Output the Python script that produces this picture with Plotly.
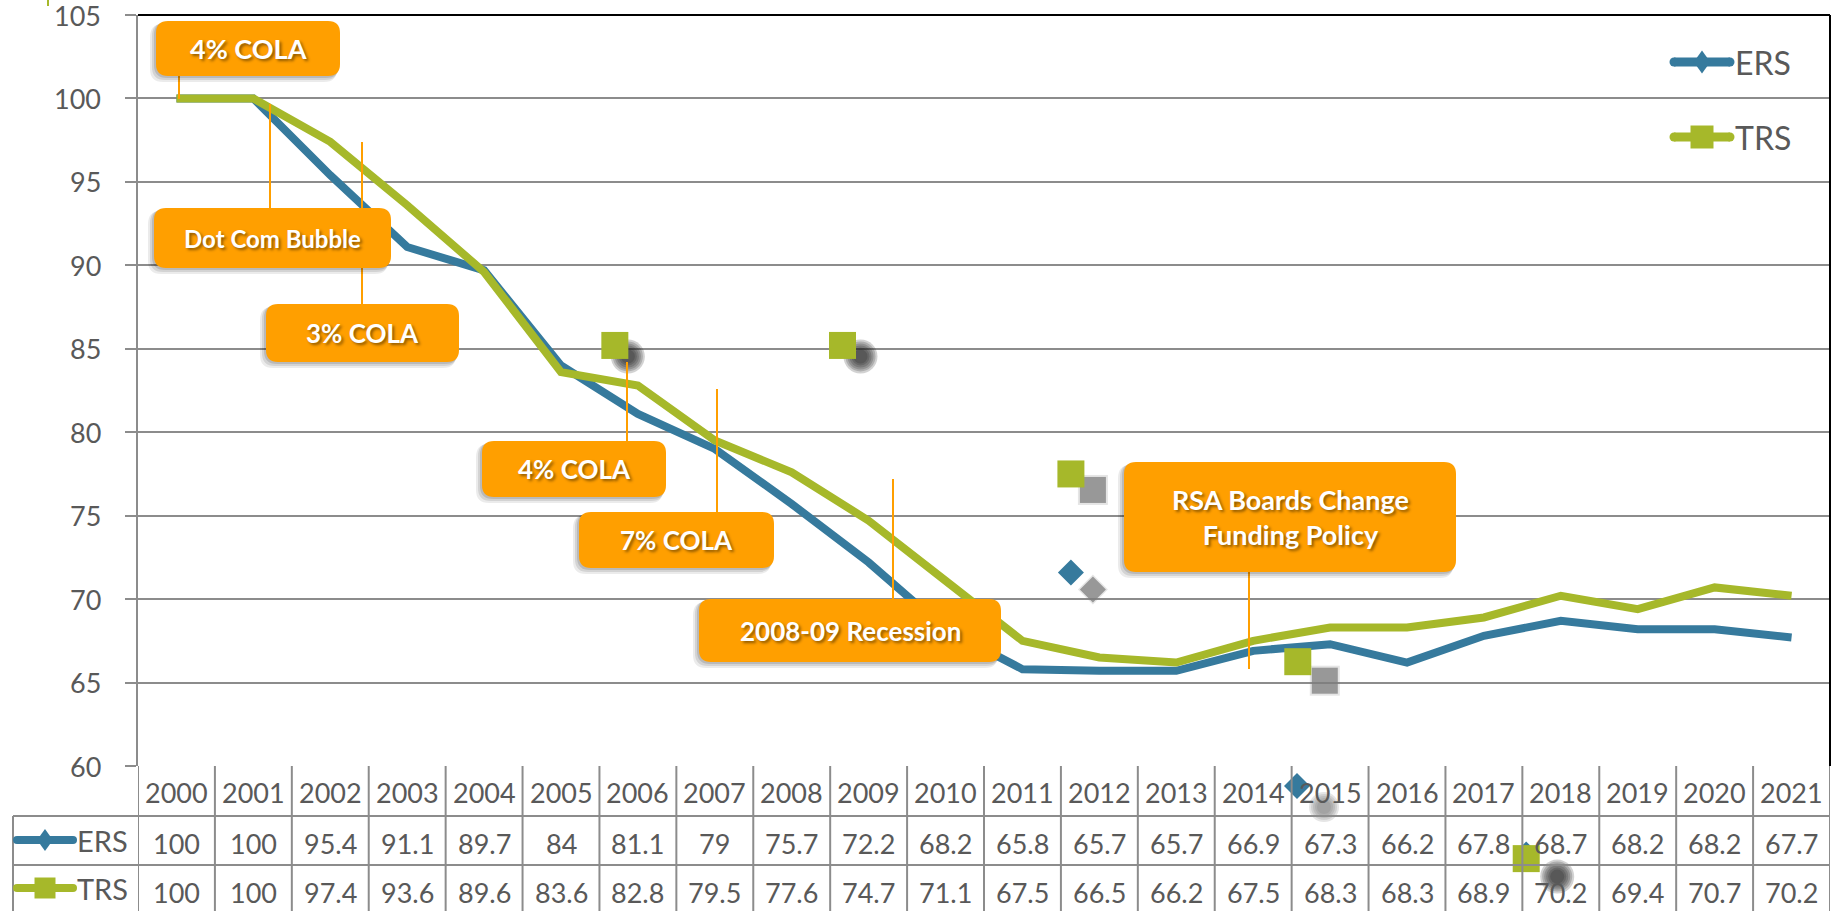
import plotly.graph_objects as go

# ---------------- data ----------------
years = ["2000", "2001", "2002", "2003", "2004", "2005", "2006", "2007", "2008", "2009", "2010",
         "2011", "2012", "2013", "2014", "2015", "2016", "2017", "2018", "2019", "2020", "2021"]
ers = [100, 100, 95.4, 91.1, 89.7, 84, 81.1, 79, 75.7, 72.2, 68.2,
       65.8, 65.7, 65.7, 66.9, 67.3, 66.2, 67.8, 68.7, 68.2, 68.2, 67.7]
trs = [100, 100, 97.4, 93.6, 89.6, 83.6, 82.8, 79.5, 77.6, 74.7, 71.1,
       67.5, 66.5, 66.2, 67.5, 68.3, 68.3, 68.9, 70.2, 69.4, 70.7, 70.2]
ers_text = ["100", "100", "95.4", "91.1", "89.7", "84", "81.1", "79", "75.7", "72.2", "68.2",
            "65.8", "65.7", "65.7", "66.9", "67.3", "66.2", "67.8", "68.7", "68.2", "68.2", "67.7"]
trs_text = ["100", "100", "97.4", "93.6", "89.6", "83.6", "82.8", "79.5", "77.6", "74.7", "71.1",
            "67.5", "66.5", "66.2", "67.5", "68.3", "68.3", "68.9", "70.2", "69.4", "70.7", "70.2"]
y_ticks = [60, 65, 70, 75, 80, 85, 90, 95, 100, 105]
y_tick_labels = ["60", "65", "70", "75", "80", "85", "90", "95", "100", "105"]

# stray (displaced) markers visible in the picture, in category-index / value units
stray_trs_pos = [5.70, 8.66, 11.63, 14.58, 17.55]
stray_trs_val = [85.2, 85.2, 77.5, 66.25, 54.45]
stray_ers_pos = [11.63, 17.55, 14.57]
stray_ers_val = [71.6, 54.7, 58.8]

callout_texts = ["4% COLA", "Dot Com Bubble", "3% COLA", "4% COLA", "7% COLA",
                 "2008-09 Recession", "RSA Boards Change<br>Funding Policy"]

# ---------------- geometry / style ----------------
W, H = 1832, 911
PL, PR, PT, PB = 138, 1830, 15, 766
PW, PH = PR - PL, PB - PT
YMIN, YMAX = 60, 105
NCAT = len(years)
XPX = PW / NCAT                # px per category
YPX = PH / (YMAX - YMIN)       # px per value unit

ERS_C = "#367A9D"
TRS_C = "#A6B82A"
GRID_C = "#8C8C8C"
TXT_C = "#595959"
ORANGE = "#FF9F00"
FONT = "Lato"


def fx(px):
    return (px - PL) / PW


def fy(py):
    return (PB - py) / PH


def vy(v):
    # value -> paper fraction (same linear scale as the y axis)
    return (v - YMIN) / (YMAX - YMIN)


idx = list(range(NCAT))

fig = go.Figure()

# main lines
fig.add_trace(go.Scatter(x=idx, y=ers, mode="lines", name="ERS",
                         line=dict(color=ERS_C, width=8), showlegend=False, hoverinfo="skip"))
fig.add_trace(go.Scatter(x=idx, y=trs, mode="lines", name="TRS",
                         line=dict(color=TRS_C, width=8), showlegend=False, hoverinfo="skip"))

shapes = []
annotations = []

# y tick labels (right aligned, a little away from the tick marks)
for v, lab in zip(y_ticks, y_tick_labels):
    annotations.append(dict(x=fx(103), y=v, xref="paper", yref="y", text=lab, showarrow=False,
                            xanchor="right", yanchor="middle",
                            font=dict(family=FONT, size=27, color=TXT_C)))


def mark_shape(pos, val, kind, half_px, color, dxpx=0, dypx=0):
    cx = pos + dxpx / XPX
    cy = vy(val) - dypx / PH
    hx = half_px / XPX
    hy = half_px / PH
    if kind == "circle":
        shapes.append(dict(type="circle", xref="x", yref="paper", x0=cx - hx, x1=cx + hx,
                           y0=cy - hy, y1=cy + hy, fillcolor=color, line=dict(width=0), layer="above"))
    elif kind == "square":
        shapes.append(dict(type="rect", xref="x", yref="paper", x0=cx - hx, x1=cx + hx,
                           y0=cy - hy, y1=cy + hy, fillcolor=color, line=dict(width=0), layer="above"))
    else:  # diamond
        path = (f"M{cx - hx},{cy} L{cx},{cy + hy} L{cx + hx},{cy} L{cx},{cy - hy} Z")
        shapes.append(dict(type="path", xref="x", yref="paper", path=path,
                           fillcolor=color, line=dict(width=0), layer="above"))


def shadow(pos, val, kind, dx, dy, symbol):
    if kind == "blur":
        for hp in [17, 15, 13, 11, 9, 7]:
            mark_shape(pos, val, "circle", hp, "rgba(30,30,30,0.2)", dx, dy)
    elif kind == "blurgray":
        for hp in [15, 13, 11, 9, 7]:
            mark_shape(pos, val, "circle", hp, "rgba(110,110,110,0.18)", dx, dy)
    elif kind == "gray":
        for hp, a in [(15, 0.2), (13, 0.75)]:
            mark_shape(pos, val, symbol, hp, f"rgba(125,125,125,{a})", dx, dy)


trs_shadow = [("blur", 13, 11), ("blur", 18, 11), ("gray", 22, 16), ("gray", 27, 19), ("blur", 31, 18)]
ers_shadow = [("gray", 22, 17), (None, 0, 0), ("blurgray", 27, 21)]

for (k, dx, dy), p, v in zip(trs_shadow, stray_trs_pos, stray_trs_val):
    shadow(p, v, k, dx, dy, "square")
for (k, dx, dy), p, v in zip(ers_shadow, stray_ers_pos, stray_ers_val):
    shadow(p, v, k, dx, dy, "diamond")
for p, v in zip(stray_ers_pos, stray_ers_val):
    mark_shape(p, v, "diamond", 13, ERS_C)
for p, v in zip(stray_trs_pos, stray_trs_val):
    mark_shape(p, v, "square", 13.5, TRS_C)

# plot border (top / right)
shapes.append(dict(type="line", xref="paper", yref="paper", x0=0, x1=1, y0=1, y1=1,
                   line=dict(color="#000000", width=2)))
shapes.append(dict(type="line", xref="paper", yref="paper", x0=1, x1=1, y0=0, y1=1,
                   line=dict(color="#000000", width=2)))
# tiny green artifact at top-left
shapes.append(dict(type="line", xref="paper", yref="paper", x0=fx(48), x1=fx(48), y0=fy(0), y1=fy(6),
                   line=dict(color=TRS_C, width=2)))

# ---------------- data table ----------------
for yy in [816, 865]:
    shapes.append(dict(type="line", xref="paper", yref="paper", x0=fx(13), x1=fx(PR), y0=fy(yy), y1=fy(yy),
                       line=dict(color=GRID_C, width=2)))
for k in range(NCAT + 1):
    shapes.append(dict(type="line", xref="x", yref="paper", x0=k - 0.5, x1=k - 0.5, y0=fy(PB), y1=fy(H + 5),
                       line=dict(color=GRID_C, width=2)))
shapes.append(dict(type="line", xref="paper", yref="paper", x0=fx(13), x1=fx(13), y0=fy(816), y1=fy(H + 5),
                   line=dict(color=GRID_C, width=2)))

for i, yr in enumerate(years):
    annotations.append(dict(x=i, y=fy(792), xref="x", yref="paper", text=yr, showarrow=False,
                            xanchor="center", yanchor="middle",
                            font=dict(family=FONT, size=27, color=TXT_C)))
    annotations.append(dict(x=i, y=fy(843), xref="x", yref="paper", text=ers_text[i], showarrow=False,
                            xanchor="center", yanchor="middle",
                            font=dict(family=FONT, size=27, color=TXT_C)))
    annotations.append(dict(x=i, y=fy(892), xref="x", yref="paper", text=trs_text[i], showarrow=False,
                            xanchor="center", yanchor="middle",
                            font=dict(family=FONT, size=27, color=TXT_C)))


def diamond_path(cx, cy, hw, hh):
    return (f"M{fx(cx - hw)},{fy(cy)} L{fx(cx)},{fy(cy - hh)} L{fx(cx + hw)},{fy(cy)} "
            f"L{fx(cx)},{fy(cy + hh)} Z")


def square_path(cx, cy, h):
    return (f"M{fx(cx - h)},{fy(cy - h)} L{fx(cx + h)},{fy(cy - h)} L{fx(cx + h)},{fy(cy + h)} "
            f"L{fx(cx - h)},{fy(cy + h)} Z")


def legend_key(x0, x1, cy, color, kind, lw, size):
    shapes.append(dict(type="line", xref="paper", yref="paper", x0=fx(x0), x1=fx(x1), y0=fy(cy), y1=fy(cy),
                       line=dict(color=color, width=lw)))
    for ex in (x0, x1):
        r = lw / 2
        shapes.append(dict(type="circle", xref="paper", yref="paper", x0=fx(ex - r), x1=fx(ex + r),
                           y0=fy(cy + r), y1=fy(cy - r), fillcolor=color, line=dict(width=0)))
    cx = (x0 + x1) / 2
    if kind == "diamond":
        path = diamond_path(cx, cy, size * 0.72, size)
    else:
        path = square_path(cx, cy, size)
    shapes.append(dict(type="path", xref="paper", yref="paper", path=path, fillcolor=color,
                       line=dict(width=0)))


# table row keys
legend_key(17, 73, 840, ERS_C, "diamond", 8, 11)
legend_key(17, 73, 888, TRS_C, "square", 8, 10.5)
annotations.append(dict(x=fx(75), y=fy(840), xref="paper", yref="paper", text="ERS", showarrow=False,
                        xanchor="left", yanchor="middle", font=dict(family=FONT, size=29, color=TXT_C)))
annotations.append(dict(x=fx(75), y=fy(888), xref="paper", yref="paper", text="TRS", showarrow=False,
                        xanchor="left", yanchor="middle", font=dict(family=FONT, size=29, color=TXT_C)))

# top-right legend
legend_key(1674, 1730, 62, ERS_C, "diamond", 9, 11.5)
legend_key(1674, 1730, 137, TRS_C, "square", 9, 11.5)
annotations.append(dict(x=fx(1733), y=fy(62), xref="paper", yref="paper", text="ERS", showarrow=False,
                        xanchor="left", yanchor="middle", font=dict(family=FONT, size=32, color=TXT_C)))
annotations.append(dict(x=fx(1733), y=fy(137), xref="paper", yref="paper", text="TRS", showarrow=False,
                        xanchor="left", yanchor="middle", font=dict(family=FONT, size=32, color=TXT_C)))

# ---------------- callouts ----------------
callout_boxes = [(156, 21, 340, 76), (154, 208, 391, 268), (266, 304, 459, 362), (482, 441, 666, 497),
                 (579, 512, 774, 568), (699, 599, 1001, 662), (1124, 462, 1456, 572)]
callout_leaders = [(179, 76, 99), (270, 104, 208), (362, 142, 304), (627, 362, 441),
                   (717, 389, 512), (893, 479, 599), (1249, 572, 669)]
callout_sizes = [27, 24, 26, 26, 26, 26, 27]


def rrect(x0, y0, x1, y1, r):
    return (f"M{fx(x0 + r)},{fy(y0)} L{fx(x1 - r)},{fy(y0)} Q{fx(x1)},{fy(y0)} {fx(x1)},{fy(y0 + r)} "
            f"L{fx(x1)},{fy(y1 - r)} Q{fx(x1)},{fy(y1)} {fx(x1 - r)},{fy(y1)} "
            f"L{fx(x0 + r)},{fy(y1)} Q{fx(x0)},{fy(y1)} {fx(x0)},{fy(y1 - r)} "
            f"L{fx(x0)},{fy(y0 + r)} Q{fx(x0)},{fy(y0)} {fx(x0 + r)},{fy(y0)} Z")


for (lx, ly0, ly1) in callout_leaders:
    shapes.append(dict(type="line", xref="paper", yref="paper", x0=fx(lx), x1=fx(lx), y0=fy(ly0), y1=fy(ly1),
                       line=dict(color=ORANGE, width=2), layer="above"))

for (x0, y0, x1, y1), txt, sz in zip(callout_boxes, callout_texts, callout_sizes):
    for off, a in [(6, 0.08), (4, 0.10), (2, 0.12)]:
        shapes.append(dict(type="path", xref="paper", yref="paper",
                           path=rrect(x0 - off, y0 + off / 2, x1 - off / 2, y1 + off, 13),
                           fillcolor=f"rgba(0,0,0,{a})", line=dict(width=0), layer="above"))
    shapes.append(dict(type="path", xref="paper", yref="paper", path=rrect(x0, y0, x1, y1, 12),
                       fillcolor=ORANGE, line=dict(width=0), layer="above"))
    annotations.append(dict(x=fx((x0 + x1) / 2), y=fy((y0 + y1) / 2), xref="paper", yref="paper",
                            text=txt, showarrow=False, xanchor="center", yanchor="middle",
                            font=dict(family=FONT, size=sz, color="#FFFFFF", weight="bold",
                                      shadow="2px 2px 3px rgba(0,0,0,0.45)")))

fig.update_layout(
    width=W, height=H,
    margin=dict(l=PL, r=W - PR, t=PT, b=H - PB, pad=0),
    paper_bgcolor="#FFFFFF", plot_bgcolor="#FFFFFF",
    showlegend=False,
    shapes=shapes, annotations=annotations,
    xaxis=dict(range=[-0.5, NCAT - 0.5], showgrid=False, showticklabels=False, zeroline=False,
               showline=False, ticks="", fixedrange=True),
    yaxis=dict(range=[YMIN, YMAX], tickmode="array", tickvals=y_ticks, showgrid=True,
               gridcolor=GRID_C, gridwidth=2,
               ticks="outside", ticklen=11, tickwidth=2, tickcolor=GRID_C,
               showline=True, linecolor=GRID_C, linewidth=2, zeroline=False,
               showticklabels=False, fixedrange=True),
)

fig.write_html("out.html")
